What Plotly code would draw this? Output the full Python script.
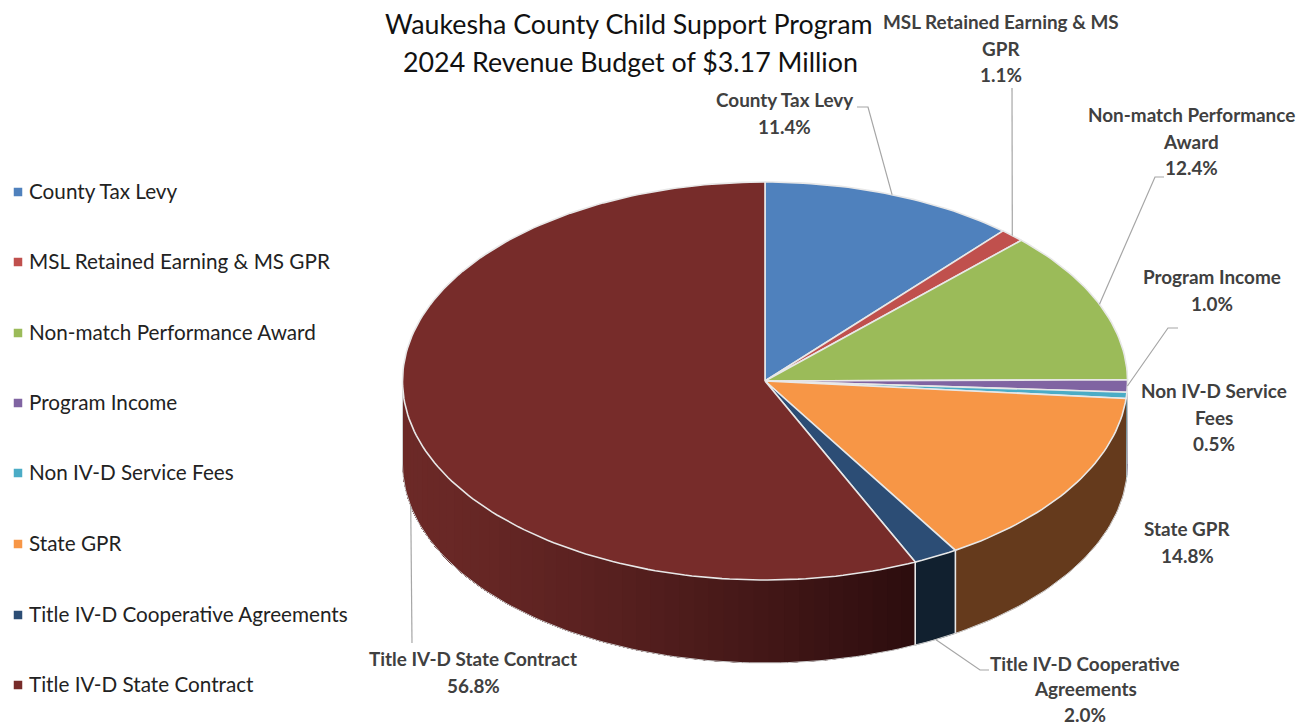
import math
import plotly.graph_objects as go

# Budget shares, percent of the 2024 revenue budget
categories = [
    "County Tax Levy",
    "MSL Retained Earning & MS GPR",
    "Non-match Performance Award",
    "Program Income",
    "Non IV-D Service Fees",
    "State GPR",
    "Title IV-D Cooperative Agreements",
    "Title IV-D State Contract",
]
shares = [11.4, 1.1, 12.4, 1.0, 0.5, 14.8, 2.0, 56.8]
top_colors = ["#4F81BD", "#C0504D", "#9BBB59", "#8064A2", "#4BACC6", "#F79646", "#2C4D75", "#772C2A"]
wall_colors = ["#34547E", "#803533", "#67803A", "#55426C", "#317385", "#653A1C", "#11202F", None]
title_lines = ["Waukesha County Child Support Program", "2024 Revenue Budget of $3.17 Million"]

# Projection of the tilted disc on the page, in page pixels
CX, CY, RX, RY, DEPTH = 765, 381, 362.5, 199, 83
FONT = "Lato"
LABEL_COLOR = "#404040"
RIM = "#E8E8E8"

# Callouts: wrapped label lines, centre x, first line row, line step,
# leader elbow points, leader starts on wall base
callouts = [
    (["County Tax Levy"], 784, 99.5, 26.5, [(868, 107), (857, 107)], False),
    (["MSL Retained Earning & MS", "GPR"], 1001, 21.5, 26.5, [(1012, 88)], False),
    (["Non-match Performance", "Award"], 1191, 114.5, 26.5, [(1155, 177), (1164, 177)], False),
    (["Program Income"], 1212, 276.5, 26.5, [(1168, 328), (1178, 328)], False),
    (["Non IV-D Service", "Fees"], 1214, 390.5, 26.5, None, False),
    (["State GPR"], 1187, 528.5, 26.5, None, False),
    (["Title IV-D Cooperative", "Agreements"], 1085, 663, 25.5, [(980, 670), (989, 670)], True),
    (["Title IV-D State Contract"], 473, 658.5, 26.5, [(412, 643)], True),
]
legend_rows = [192, 262, 333, 403, 473, 544, 615, 685]


def rim_point(pct, drop=0.0):
    """Point on the disc rim for a cumulative percentage, clockwise from 12 o'clock."""
    theta = 2 * math.pi * pct / 100
    return CX + RX * math.sin(theta), CY - RY * math.cos(theta) + drop


def arc(start, end, drop=0.0):
    n = max(2, int(abs(end - start) * 3))
    pts = [rim_point(start + (end - start) * i / n, drop) for i in range(n + 1)]
    return [p[0] for p in pts], [p[1] for p in pts]


def mix(a, b, t):
    ca = [int(a[i:i + 2], 16) for i in (1, 3, 5)]
    cb = [int(b[i:i + 2], 16) for i in (1, 3, 5)]
    return "rgb({},{},{})".format(*[round(x + (y - x) * t) for x, y in zip(ca, cb)])


fig = go.Figure()


def add_poly(xs, ys, fill, line_color, line_width):
    fig.add_trace(go.Scatter(
        x=xs, y=ys, mode="lines", fill="toself", fillcolor=fill,
        line=dict(color=line_color, width=line_width),
        hoverinfo="skip", showlegend=False,
    ))


# Cumulative bounds of each slice
bounds = []
running = 0.0
for s in shares:
    bounds.append((running, running + s))
    running += s

# Side wall: only the front half of the disc (25% to 75%) is visible
for i, (a, b) in enumerate(bounds):
    lo, hi = max(a, 25), min(b, 75)
    if lo >= hi:
        continue
    if wall_colors[i] is not None:
        tx, ty = arc(lo, hi)
        bx, by = arc(hi, lo, DEPTH)
        add_poly(tx + bx, ty + by, wall_colors[i], wall_colors[i], 0.5)
    else:
        # The largest wall shades lighter towards the left; each band is painted
        # from its own edge through to the far end so no gaps show between bands
        strips = 48
        for k in range(strips):
            p0 = lo + (hi - lo) * k / strips
            p1 = lo + (hi - lo) * (k + 1) / strips
            tx, ty = arc(p0, hi)
            bx, by = arc(hi, p0, DEPTH)
            xm = rim_point((p0 + p1) / 2)[0]
            t = (xm - (CX - RX)) / (rim_point(lo)[0] - (CX - RX))
            c = mix("#6C2927", "#2C0D0E", t ** 1.25)
            add_poly(tx + bx, ty + by, c, "rgba(0,0,0,0)", 0)

# Thin light edges on the wall: separators and outer silhouette
for pct in (bounds[5][1], bounds[6][1]):
    x0, y0 = rim_point(pct)
    x1, y1 = rim_point(pct, DEPTH)
    fig.add_trace(go.Scatter(x=[x0, x1], y=[y0, y1], mode="lines",
                             line=dict(color=RIM, width=1.6), hoverinfo="skip", showlegend=False))
sx, sy = arc(25, 75, DEPTH)
lx, ly = rim_point(75)
rx, ry = rim_point(25)
fig.add_trace(go.Scatter(x=[rx] + sx + [lx], y=[ry] + sy + [ly], mode="lines",
                         line=dict(color="#CFCFCF", width=1), hoverinfo="skip", showlegend=False))

# Top face of every slice
for i, (a, b) in enumerate(bounds):
    ax, ay = arc(a, b)
    add_poly([CX] + ax + [CX], [CY] + ay + [CY], top_colors[i], RIM, 1.6)

# Leader lines run from the rim at the middle of a slice to the label
for i, c in enumerate(callouts):
    elbow = c[4]
    if not elbow:
        continue
    mid = sum(bounds[i]) / 2
    x0, y0 = rim_point(mid, DEPTH if c[5] else 0)
    fig.add_trace(go.Scatter(
        x=[x0] + [p[0] for p in elbow], y=[y0] + [p[1] for p in elbow], mode="lines",
        line=dict(color="#A6A6A6", width=1.2), hoverinfo="skip", showlegend=False,
    ))

# Legend column
fig.add_trace(go.Scatter(
    x=[18] * len(categories), y=legend_rows, mode="markers",
    marker=dict(symbol="square", size=8.5, color=top_colors, line=dict(width=0)),
    hoverinfo="skip", showlegend=False,
))


def add_text(x, y, text, size, color, bold=False, anchor="center"):
    fig.add_annotation(
        x=x, y=y, xref="x", yref="y", text=f"<b>{text}</b>" if bold else text,
        showarrow=False, xanchor=anchor, yanchor="middle",
        font=dict(family=FONT, size=size, color=color), borderpad=0, borderwidth=0,
    )


for name, row in zip(categories, legend_rows):
    add_text(29, row - 1.5, name, 20.7, "#222222", anchor="left")

for i, c in enumerate(callouts):
    lines, cx, y0, step = c[0], c[1], c[2], c[3]
    for j, line in enumerate(lines + [f"{shares[i]:.1f}%"]):
        add_text(cx, y0 + j * step, line, 18.9, LABEL_COLOR, bold=True)

add_text(629, 24, title_lines[0], 26.8, "#111111")
add_text(630, 62, title_lines[1], 26.8, "#111111")

fig.update_layout(
    width=1311, height=727,
    margin=dict(l=0, r=0, t=0, b=0),
    paper_bgcolor="white", plot_bgcolor="white",
    xaxis=dict(range=[0, 1311], visible=False, fixedrange=True),
    yaxis=dict(range=[727, 0], visible=False, fixedrange=True),
    showlegend=False,
)
fig.write_html("out.html", config=dict(displayModeBar=False))
